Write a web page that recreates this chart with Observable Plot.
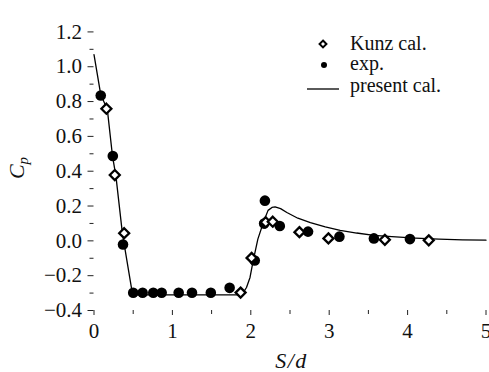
<!DOCTYPE html>
<html><head><meta charset="utf-8">
<script src="https://cdn.jsdelivr.net/npm/d3@7"></script>
<script src="https://cdn.jsdelivr.net/npm/@observablehq/plot@0.6"></script>
<style>
body{margin:0;background:#fff;}
#chart svg, #chart svg text{font-family:'Liberation Serif','Times New Roman','DejaVu Serif',serif !important;}
</style></head><body><div id="chart"></div>
<script>
// experimental data (filled circles)
const expX = [0.086, 0.24, 0.37, 0.50, 0.62, 0.756, 0.863, 1.08, 1.25, 1.49, 1.73, 2.05, 2.17, 2.18, 2.37, 2.73, 3.13, 3.57, 4.03];
const expY = [0.835, 0.487, -0.021, -0.298, -0.298, -0.298, -0.298, -0.298, -0.298, -0.298, -0.27, -0.113, 0.099, 0.231, 0.085, 0.053, 0.024, 0.014, 0.01];
// Kunz calculation (open diamonds)
const kunzX = [0.158, 0.265, 0.385, 1.87, 2.01, 2.19, 2.28, 2.62, 2.99, 3.71, 4.27];
const kunzY = [0.759, 0.378, 0.044, -0.297, -0.098, 0.107, 0.11, 0.05, 0.014, 0.006, 0.003];
// present calculation (line)
const calX = [0.0, 0.086, 0.17, 0.235, 0.28, 0.363, 0.483, 0.52, 1.0, 1.5, 1.85, 1.9, 1.945, 1.99, 2.03, 2.09, 2.16, 2.22, 2.27, 2.31, 2.38, 2.46, 2.6, 2.76, 2.95, 3.14, 3.35, 3.57, 3.8, 4.1, 4.4, 4.7, 5.0];
const calY = [1.07, 0.84, 0.755, 0.49, 0.37, 0.04, -0.285, -0.31, -0.31, -0.31, -0.31, -0.3, -0.268, -0.21, -0.115, 0.01, 0.105, 0.175, 0.192, 0.195, 0.185, 0.163, 0.13, 0.105, 0.08, 0.06, 0.045, 0.032, 0.024, 0.016, 0.01, 0.006, 0.004];

const xMajor = [0, 1, 2, 3, 4, 5];
const xMinor = [0.5, 1.5, 2.5, 3.5, 4.5];
const yMajor = [-0.4, -0.2, 0, 0.2, 0.4, 0.6, 0.8, 1.0, 1.2];
const yMinor = [-0.3, -0.1, 0.1, 0.3, 0.5, 0.7, 0.9, 1.1];
const legendLabels = ["Kunz cal.", "exp.", "present cal."];
const xLabel = "S/d";
const yLabelMain = "C";
const yLabelSub = "p";

const expData = expX.map((x, i) => ({x, y: expY[i]}));
const kunzData = kunzX.map((x, i) => ({x, y: kunzY[i]}));
const calData = calX.map((x, i) => ({x, y: calY[i]}));

const font = "'Liberation Serif','Times New Roman','DejaVu Serif',serif";
const chart = Plot.plot({
  width: 489, height: 372,
  marginLeft: 93.5, marginRight: 3.5, marginTop: 14, marginBottom: 62,
  style: {fontFamily: font, fontSize: "20px", background: "#fff", color: "#111", overflow: "visible"},
  x: {domain: [0, 5]},
  y: {domain: [-0.4, 1.3]},
  marks: [
    Plot.axisX({ticks: xMinor, tickSize: 4, fill: "none", label: null, stroke: "#222"}),
    Plot.axisX({ticks: xMajor, tickSize: 5, tickPadding: 8, tickFormat: d3.format("d"), label: null, line: true, stroke: "#222", fill: "#111", fontSize: 21}),
    Plot.axisY({ticks: yMinor, tickSize: 4, fill: "none", label: null, stroke: "#222"}),
    Plot.axisY({ticks: yMajor, tickSize: 6, tickPadding: 6, tickFormat: d3.format(".1f"), label: null, line: true, stroke: "#222", fill: "#111", fontSize: 21}),
    Plot.line(calData, {x: "x", y: "y", stroke: "#000", strokeWidth: 1.3}),
    Plot.dot(expData, {x: "x", y: "y", r: 5.3, fill: "#000"}),
    Plot.dot(kunzData, {x: "x", y: "y", r: 4.5, symbol: "diamond2", stroke: "#000", fill: "#fff", strokeWidth: 2.3})
  ]
});
document.getElementById("chart").appendChild(chart);

const svg = d3.select(chart);
// legend
const lg = svg.append("g").attr("font-family", font).attr("font-size", 20).attr("fill", "#111").attr("text-anchor", "start");
lg.append("path").attr("d", d3.symbol(d3.symbolDiamond2, 30)()).attr("transform", "translate(323,44)")
  .attr("fill", "#fff").attr("stroke", "#000").attr("stroke-width", 2);
lg.append("circle").attr("cx", 324).attr("cy", 65).attr("r", 3).attr("fill", "#000");
lg.append("line").attr("x1", 307).attr("x2", 339).attr("y1", 89).attr("y2", 89).attr("stroke", "#000").attr("stroke-width", 1.3);
[50, 70, 92].forEach((yy, i) => lg.append("text").attr("x", 350).attr("y", yy).text(legendLabels[i]));

// axis labels
svg.append("text").attr("x", 291.5).attr("y", 368).attr("text-anchor", "middle")
  .attr("font-family", font).attr("font-style", "italic").attr("font-size", 22).attr("letter-spacing", 1.5)
  .attr("fill", "#111").text(xLabel);
const yl = svg.append("text").attr("transform", "translate(24,168) rotate(-90)").attr("text-anchor", "middle")
  .attr("font-family", font).attr("font-style", "italic").attr("font-size", 22).attr("fill", "#111");
yl.append("tspan").text(yLabelMain);
yl.append("tspan").attr("dy", 4).attr("font-size", 15).text(yLabelSub);
</script>
</body></html>
